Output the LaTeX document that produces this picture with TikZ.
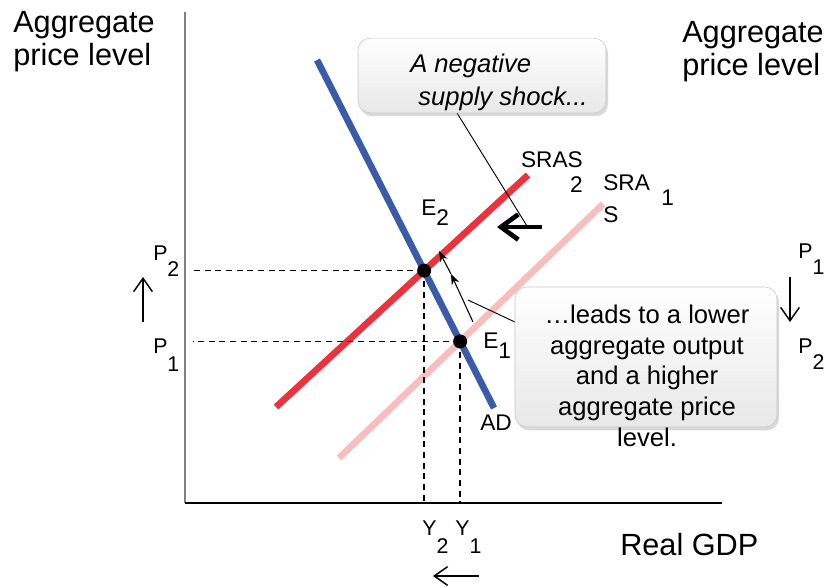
\documentclass[tikz,border=0pt]{standalone}
\usepackage{fontspec}
\setmainfont{Liberation Sans}
\usetikzlibrary{arrows.meta}
\usetikzlibrary{intersections}
\usetikzlibrary{shadows}

\definecolor{adblue}{RGB}{58,91,170}
\definecolor{srasred}{RGB}{237,50,62}
\definecolor{sraspink}{RGB}{248,190,190}

\begin{document}
\begin{tikzpicture}[
    x=0.75pt, y=-0.75pt,
    every node/.style={inner sep=0pt},
    bigtxt/.style={font=\fontsize{23}{24.75}\selectfont, align=left},
    lbl/.style={font=\fontsize{16}{18}\selectfont},
    curvelbl/.style={font=\fontsize{17}{18.75}\selectfont},
    notetxt/.style={font=\fontsize{19.2}{23}\selectfont},
    curve/.style={line width=5pt},
    guide/.style={dash pattern=on 4.5pt off 3.5pt, line width=1.1pt},
    eqdot/.style={circle, fill=black, minimum size=10.5pt},
    callout/.style={rounded corners=9pt, draw=gray!45, top color=white, bottom color=gray!18,
        drop shadow={shadow xshift=1.5pt, shadow yshift=-2.5pt, opacity=0.3}},
    movearr/.style={-{Straight Barb[length=10pt, width=14pt]}, line width=1.1pt},
    thinarr/.style={-{Stealth[length=8pt, width=6pt]}, line width=0.8pt},
    pointer/.style={line width=0.7pt}
]
\useasboundingbox (0,0) rectangle (831,586);

% Axes
\coordinate (O) at (185,503);
\coordinate (ytop) at (185,12);
\coordinate (xend) at (722,503);
\draw[line width=1.5pt, gray] (O) -- (ytop);
\draw[line width=1.5pt] (O) -- (xend);

% Curves
\draw[curve, sraspink, name path=sras1] (339,458) -- (603,204);
\draw[curve, srasred, name path=sras2] (276,407) -- (528,175);
\draw[curve, adblue, name path=ad] (317,60) -- (494,408);

% Equilibria and guides
\path[name intersections={of=ad and sras2, by=e2pt}];
\path[name intersections={of=ad and sras1, by=e1pt}];
\coordinate (dashL) at (193,0);
\draw[guide] (e2pt) -- (e2pt -| dashL);
\draw[guide] (e2pt) -- (e2pt |- O);
\draw[guide] (e1pt) -- (e1pt -| dashL);
\draw[guide] (e1pt) -- (e1pt |- O);
\node[eqdot] (E2) at (e2pt) {};
\node[eqdot] (E1) at (e1pt) {};

% Axis titles
\node[bigtxt, anchor=base west] (ylabL) at (13,65) {Aggregate\\price level};
\node[bigtxt, anchor=base west] (ylabR) at (682,75) {Aggregate\\price level};
\node[bigtxt, anchor=base west] (xlab) at (620,555) {Real GDP};

% Level labels
\node[lbl, anchor=base west] (P2L) at (153,260) {P\raisebox{-12pt}{2}};
\node[lbl, anchor=base west] (P1L) at (153,353) {P\raisebox{-13.5pt}{1}};
\node[lbl, anchor=base west] (P1R) at (798,258) {P\raisebox{-12.5pt}{1}};
\node[lbl, anchor=base west] (P2R) at (798,353) {P\raisebox{-12.5pt}{2}};
\node[lbl, anchor=base west] (Y2) at (422,535) {Y\raisebox{-14pt}{2}};
\node[lbl, anchor=base west] (Y1) at (455,535) {Y\raisebox{-14pt}{1}};
\node[curvelbl, anchor=base west] (E2lbl) at (421,215) {E\raisebox{-7.5pt}{2}};
\node[curvelbl, anchor=base west] (E1lbl) at (483,348) {E\raisebox{-7.5pt}{1}};

% Curve labels
\node[curvelbl, align=right, anchor=base east] (sras2lbl) at (583,192) {SRAS\\2};
\node[font=\fontsize{17}{24}\selectfont, align=left, anchor=base west] (sras1lbl) at (603,222) {SRA\\S};
\node[curvelbl, anchor=base west] (sras1sub) at (661,205) {1};
\node[curvelbl, anchor=base west] (adlbl) at (480,430) {AD};

% Direction arrows
\coordinate (upB) at (143,322);
\coordinate (upT) at (143,277);
\coordinate (dnT) at (790,277);
\coordinate (dnB) at (790,322);
\coordinate (lfR) at (479,576);
\coordinate (lfL) at (433,576);
\draw[movearr] (upB) -- (upT);
\draw[movearr] (dnT) -- (dnB);
\draw[movearr] (lfR) -- (lfL);

% Shift of SRAS
\coordinate (shiftR) at (542,227);
\coordinate (shiftL) at (497,227);
\draw[-{Straight Barb[length=13pt, width=19pt]}, line width=3.5pt] (shiftR) -- (shiftL);

% Callout: shock
\coordinate (ptA1) at (457,113);
\coordinate (ptA2) at (527,226);
\draw[pointer] (ptA1) -- (ptA2);
\node[callout, minimum width=186pt, minimum height=56pt] (callA) at (482,75.5) {};
\node[font=\fontsize{19.2}{24.75}\selectfont\itshape, align=left, anchor=base west] (noteA) at (410,105) {A negative\\\hspace*{6pt}supply shock...};

% Callout: outcome
\coordinate (ptB1) at (517,323);
\coordinate (ptB2) at (468,300);
\draw[pointer] (ptB1) -- (ptB2);
\coordinate (mvA) at (473,322);
\coordinate (mvB) at (451,274);
\coordinate (mvC) at (439,251);
\draw[thinarr] (mvA) -- (mvB);
\draw[thinarr] (mvB) -- (mvC);
\node[callout, minimum width=196.5pt, minimum height=105pt] (callB) at (646,357) {};
\node[notetxt, align=center, anchor=base] (noteB) at (647,446) {…leads to a lower\\aggregate output\\and a higher\\aggregate price\\level.};

\end{tikzpicture}
\end{document}
